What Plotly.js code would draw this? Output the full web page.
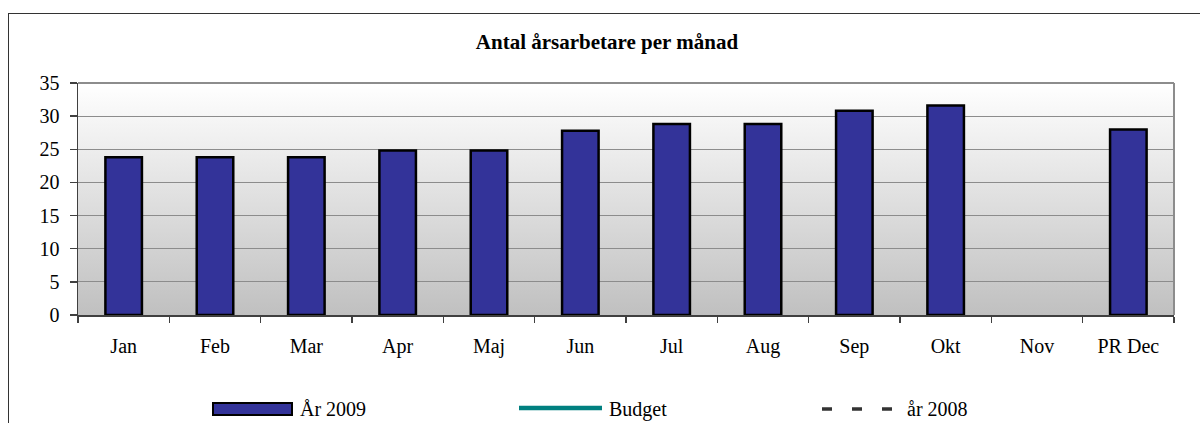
<!DOCTYPE html>
<html><head><meta charset="utf-8">
<script src="https://cdn.plot.ly/plotly-3.0.1.min.js"></script>
<style>
html,body{margin:0;padding:0;background:#fff;overflow:hidden}
#wrap{position:relative;width:1200px;height:423px;overflow:hidden}
#chart{width:1200px;height:423px}
#frame{position:absolute;left:8px;top:13px;width:1400px;height:600px;border-top:1.5px solid #333;border-left:1.5px solid #333;pointer-events:none}
</style>
</head><body><div id="wrap"><div id="chart"></div><div id="frame"></div></div>
<script>
// ---- data ----
const months = ['Jan','Feb','Mar','Apr','Maj','Jun','Jul','Aug','Sep','Okt','Nov','PR Dec'];
const ar2009 = [23.8,23.8,23.8,24.8,24.8,27.8,28.8,28.8,30.8,31.6,null,28.0];
const budget = [null,null,null,null,null,null,null,null,null,null,null,null];
const ar2008 = [null,null,null,null,null,null,null,null,null,null,null,null];
const seriesNames = ['År 2009','Budget','år 2008'];
const yTicks = [0,5,10,15,20,25,30,35];
const chartTitle = 'Antal årsarbetare per månad';

// ---- style ----
const FONT = 'Liberation Serif';
const BAR_COLOR = '#333399', BUDGET_COLOR = '#008080', PREV_COLOR = '#333333';
const L = 78, R = 1174, T = 83, B = 315;
const px = p => (p - L) / (R - L);
const py = p => (B - p) / (B - T);

const gradSvg = '<svg xmlns="http://www.w3.org/2000/svg" width="100" height="100" preserveAspectRatio="none">' +
  '<defs><linearGradient id="g" x1="0" y1="0" x2="0" y2="1"><stop offset="0" stop-color="#ffffff"/><stop offset="1" stop-color="#c0c0c0"/></linearGradient></defs>' +
  '<rect width="100" height="100" fill="url(#g)"/></svg>';
const gradSrc = 'data:image/svg+xml;base64,' + btoa(gradSvg);

const traces = [
  {type:'bar', x: months, y: ar2009, name: seriesNames[0], width: 0.4,
   marker:{color: BAR_COLOR, line:{color:'#000', width:2.5}}, showlegend:false, hoverinfo:'x+y'},
  {type:'scatter', mode:'lines', x: months, y: budget, name: seriesNames[1],
   line:{color: BUDGET_COLOR, width:4.5}, showlegend:false},
  {type:'scatter', mode:'lines', x: months, y: ar2008, name: seriesNames[2],
   line:{color: PREV_COLOR, width:3.5, dash:'10px,20px'}, showlegend:false}
];

// custom legend (symbols as shapes, labels as annotations)
const legY = 409;
const shapes = [
  // plot area top/right border
  {type:'line', xref:'paper', yref:'paper', x0:0, x1:1, y0:1, y1:1, line:{color:'#8c8c8c', width:2}},
  {type:'line', xref:'paper', yref:'paper', x0:1, x1:1, y0:0, y1:1, line:{color:'#8c8c8c', width:2}},
  // legend symbols
  {type:'rect', xref:'paper', yref:'paper', x0: px(213), x1: px(292), y0: py(415), y1: py(403),
   fillcolor: BAR_COLOR, line:{color:'#000', width:2}},
  {type:'line', xref:'paper', yref:'paper', x0: px(519), x1: px(602), y0: py(408), y1: py(408),
   line:{color: BUDGET_COLOR, width:4.5}},
  {type:'line', xref:'paper', yref:'paper', x0: px(822), x1: px(892), y0: py(409), y1: py(409),
   line:{color: PREV_COLOR, width:3.5, dash:'10px,20px'}}
];
const legX = [298, 607, 905];
const annotations = seriesNames.map((n,i) => ({
  text: n, xref:'paper', yref:'paper', x: px(legX[i]), y: py(legY), xanchor:'left', yanchor:'middle',
  showarrow:false, font:{family: FONT, size:20, color:'#000'}
}));

const layout = {
  width:1200, height:423,
  margin:{l:L, r:1200-R, t:T, b:423-B, pad:0},
  paper_bgcolor:'#ffffff', plot_bgcolor:'rgba(0,0,0,0)',
  font:{family: FONT, size:20, color:'#000'},
  title:{text:'<b>' + chartTitle + '</b>', font:{family: FONT, size:21, color:'#000'},
         xref:'container', yref:'container', x: 607/1200, y: 1 - 42/423, xanchor:'center', yanchor:'middle'},
  showlegend:false,
  bargap:0.6,
  xaxis:{type:'category', categoryarray: months, tickson:'boundaries', ticks:'outside', ticklen:6,
         tickcolor:'#404040', tickwidth:1.5, showline:true, linecolor:'#404040', linewidth:1.5,
         showgrid:false, zeroline:false, range:[-0.5, 11.5], fixedrange:true,
         tickfont:{family: FONT, size:20, color:'#000'}, ticklabelstandoff:12},
  yaxis:{range:[0,35], tickvals: yTicks, ticktext: yTicks.map(String), ticks:'outside', ticklen:7,
         tickcolor:'#404040', tickwidth:1.5, showline:true, linecolor:'#404040', linewidth:1.5,
         gridcolor:'#8c8c8c', gridwidth:1, zeroline:false, fixedrange:true,
         tickfont:{family: FONT, size:20, color:'#000'}, ticklabelstandoff:6},
  images:[{source: gradSrc, xref:'paper', yref:'paper', x:0, y:1, sizex:1, sizey:1,
           sizing:'stretch', xanchor:'left', yanchor:'top', layer:'below'}],
  shapes: shapes,
  annotations: annotations
};

Plotly.newPlot('chart', traces, layout, {displayModeBar:false, staticPlot:true});
</script>
</body></html>
